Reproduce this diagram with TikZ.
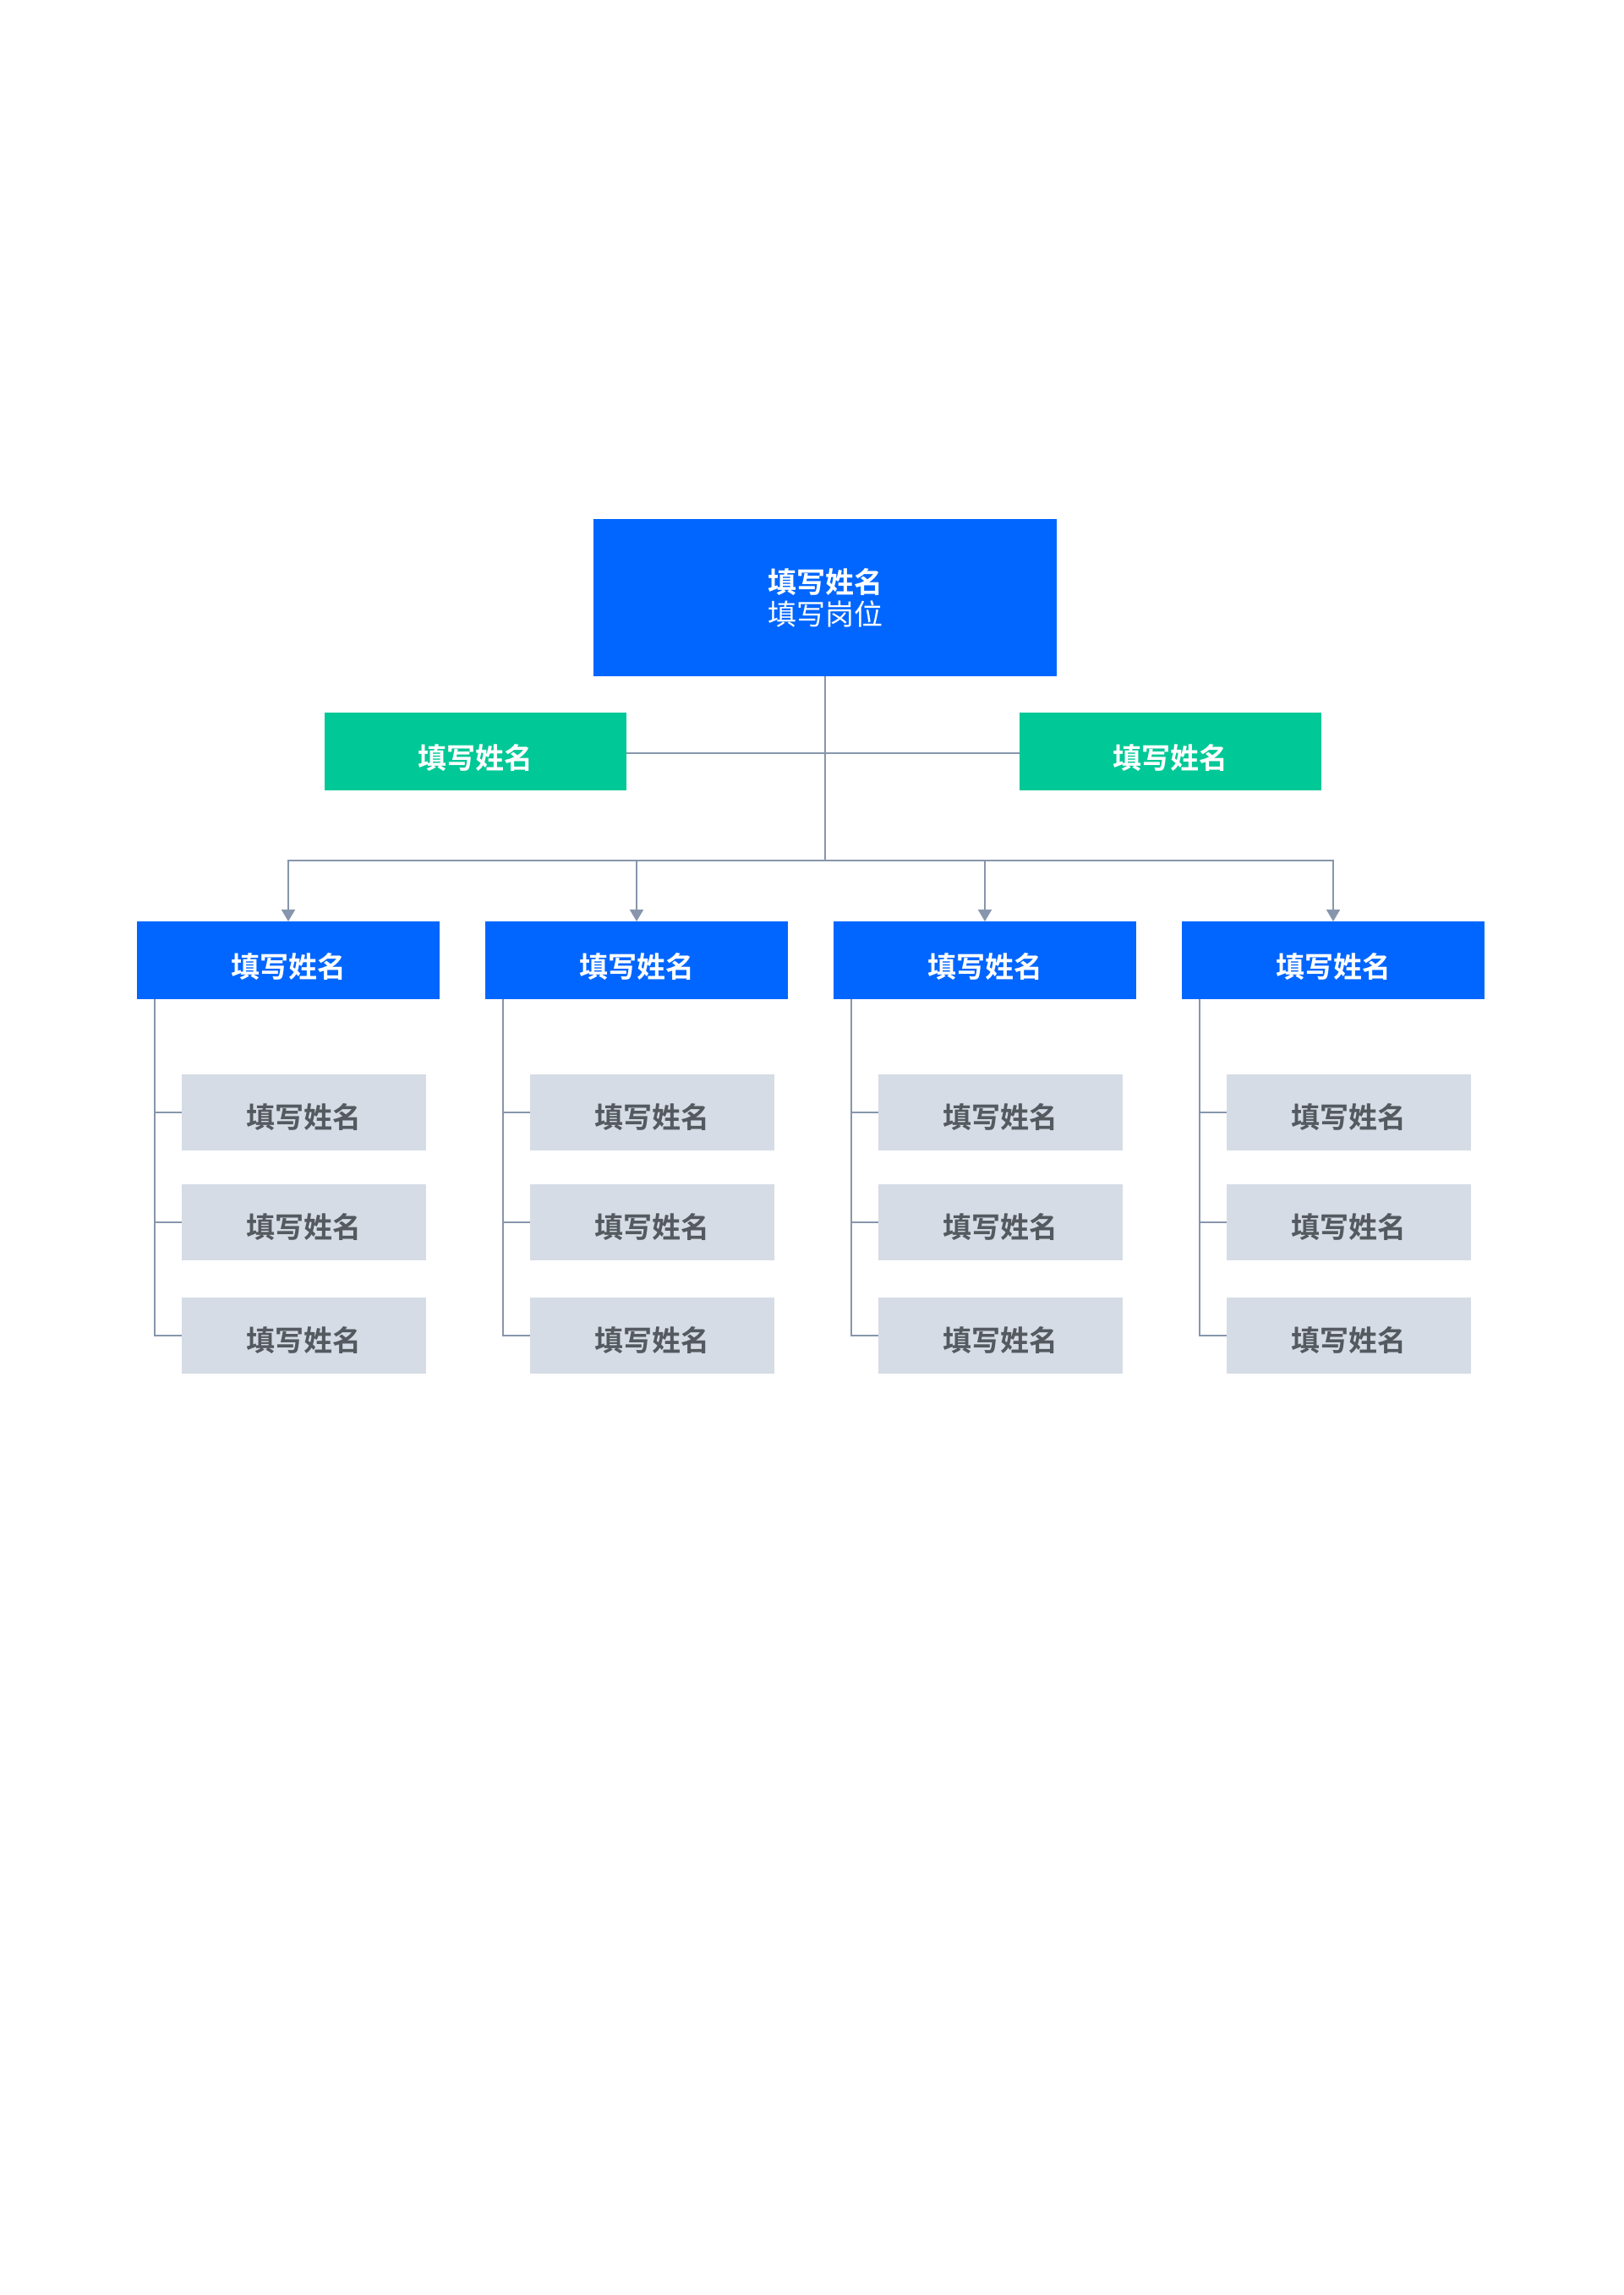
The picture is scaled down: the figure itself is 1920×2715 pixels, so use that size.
\documentclass[tikz,border=0pt]{standalone}
\usepackage{fontspec}
\newfontfamily\cjk{Noto Sans CJK SC}
\newfontfamily\cjkb{Noto Sans CJK SC Bold}
\usetikzlibrary{arrows.meta}
\definecolor{bl}{HTML}{0066FF}
\definecolor{gr}{HTML}{00C896}
\definecolor{gy}{HTML}{D6DCE5}
\definecolor{tx}{HTML}{555A60}
\definecolor{ln}{HTML}{8796AC}
\tikzset{
 box/.style={inner sep=0pt,text=white,font=\cjkb\fontsize{34}{40}\selectfont},
 conn/.style={draw=ln,line width=2pt},
 arr/.style={conn,-{Triangle[length=14pt,width=16pt]}},
}
\begin{document}
\begin{tikzpicture}[x=1pt,y=-1pt]
\useasboundingbox (0,0) rectangle (1920,2715);
\fill[white] (0,0) rectangle (1920,2715);
% top
\fill[bl] (702,614) rectangle (1250,800);
\node[box,align=center] (top) at (976,707) {填写姓名\\[-2pt]{\cjk 填写岗位}};
\coordinate (topb) at (976,800);
\fill[gr] (384,843) rectangle (741,935);
\node[box] (gl) at (562.5,896) {填写姓名};
\coordinate (glr) at (741,891);
\fill[gr] (1206,843) rectangle (1563,935);
\node[box] (grr) at (1384.5,896) {填写姓名};
\coordinate (grl) at (1206,891);
\coordinate (bus) at (976,1018);
\draw[conn] (topb) -- (bus);
\draw[conn] (glr) -- (grl);
\foreach \i in {0,1,2,3}{
  \pgfmathsetmacro\L{162+412*\i}
  \pgfmathsetmacro\C{\L+179}
  \fill[bl] (\L,1090) rectangle ({\L+358},1182);
  \node[box] (p\i) at (\C,1143) {填写姓名};
  \coordinate (pt\i) at (\C,1090);
  \coordinate (pb\i) at (\C,1018);
  \draw[arr] (bus) -| (pt\i);
  \coordinate (v\i) at ({\L+21},1182);
  \foreach \j/\yy in {0/1316,1/1446,2/1580}{
    \fill[gy] ({\L+53},{\yy-45}) rectangle ({\L+342},{\yy+45});
    \node[box,text=tx] (c\i\j) at ({\L+197.5},{\yy+5}) {填写姓名};
    \coordinate (cl\i\j) at ({\L+53},\yy);
  }
  \draw[conn] (v\i) |- (cl\i2);
  \draw[conn] (v\i |- cl\i0) -- (cl\i0);
  \draw[conn] (v\i |- cl\i1) -- (cl\i1);
}
\end{tikzpicture}
\end{document}
